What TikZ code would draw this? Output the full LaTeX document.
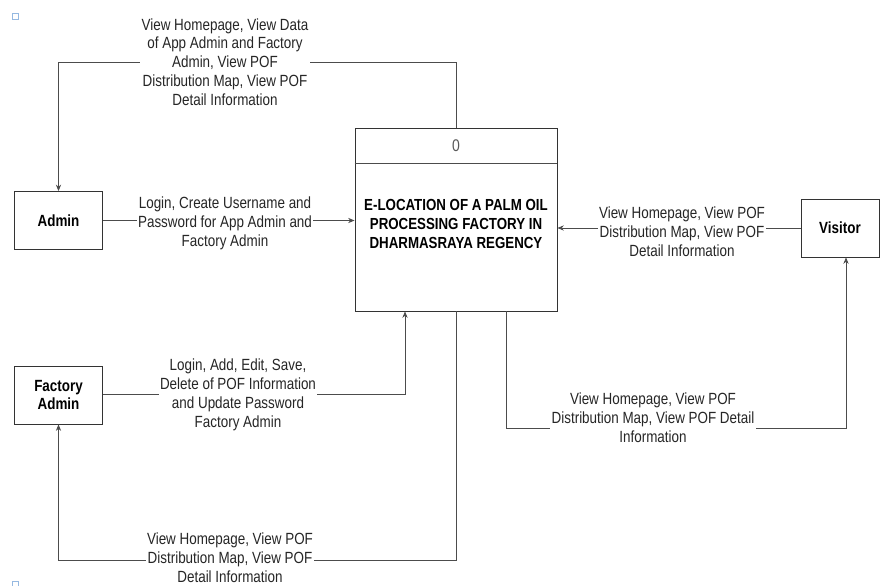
\documentclass[tikz,border=0pt]{standalone}
\usepackage{fontspec}
\setmainfont[FakeStretch=0.83]{Liberation Sans}
\usepackage{tikz}
\usetikzlibrary{arrows.meta,positioning,calc}
\definecolor{scanblue}{RGB}{150,185,225}

\begin{document}
\begin{tikzpicture}[
  x=0.025cm, y=-0.025cm,
  entity/.style={draw=black!80, line width=0.6pt, minimum width=2.2cm, minimum height=1.45cm, align=center, font=\fontsize{11.5}{13.4}\selectfont\bfseries},
  process/.style={draw=black!80, line width=0.6pt, minimum width=5.05cm, minimum height=4.575cm},
  flowlabel/.style={fill=white, inner sep=1pt, align=center, text=black!85, font=\fontsize{11.5}{13.4}\selectfont},
  arrow/.style={-{Stealth[length=1.6mm,width=1.3mm]}, line width=0.55pt, draw=black!70},
  line/.style={line width=0.55pt, draw=black!70}
]
\useasboundingbox (0,0) rectangle (880,585);
% stray marks of the scan
\draw[scanblue, line width=0.6pt] (12,13) rectangle (18,19);
\draw[scanblue, line width=0.6pt] (12,581) rectangle (18,587);
% process and external entities
\node[process] (proc) at (456,219.5) {};
\draw[line] ([yshift=-0.9cm]proc.north west) -- ([yshift=-0.9cm]proc.north east);
\node[font=\fontsize{12}{13}\selectfont, text=black!65] (pid) at (456,146) {0};
\node[align=center, font=\fontsize{11.4}{13.5}\selectfont\bfseries] (title) at (456,223.5) {E-LOCATION OF A PALM OIL\\PROCESSING FACTORY IN\\DHARMASRAYA REGENCY};
\node[entity] (admin) at (58.5,220.5) {Admin};
\node[entity] (fadmin) at (58.5,395) {Factory\\Admin};
\node[entity, minimum width=1.95cm] (visitor) at (840,228) {Visitor};
\coordinate (fbend) at (405,394);
\coordinate (vbend) at (506,428);
% data flows
\draw[arrow] (proc.north) -- (proc.north |- 0,62) -| (admin.north);
\draw[arrow] (admin.east) -- (proc.west |- admin.east);
\draw[arrow] (visitor.west) -- (proc.east |- visitor.west);
\draw[arrow] (fadmin.east |- fbend) -- (fbend) -- (fbend |- proc.south);
\draw[arrow] (proc.south) -- (proc.south |- 0,560) -| (fadmin.south);
\draw[arrow] (vbend |- proc.south) -- (vbend) -- (846,428) -- (846,0 |- visitor.south);
% flow labels
\node[flowlabel] (ltop) at (225,62) {View Homepage, View Data\\of App Admin and Factory\\Admin, View POF\\Distribution Map, View POF\\Detail Information};
\node[flowlabel] (ladmin) at (225,223) {Login, Create Username and\\Password for App Admin and\\Factory Admin};
\node[flowlabel] (lvisitor) at (682,232) {View Homepage, View POF\\Distribution Map, View POF\\Detail Information};
\node[flowlabel] (lfadmin) at (238,395) {Login, Add, Edit, Save,\\Delete of POF Information\\and Update Password\\Factory Admin};
\node[flowlabel] (lbottom) at (230,558) {View Homepage, View POF\\Distribution Map, View POF\\Detail Information};
\node[flowlabel] (lright) at (653,418) {View Homepage, View POF\\Distribution Map, View POF Detail\\Information};
\end{tikzpicture}
\end{document}
